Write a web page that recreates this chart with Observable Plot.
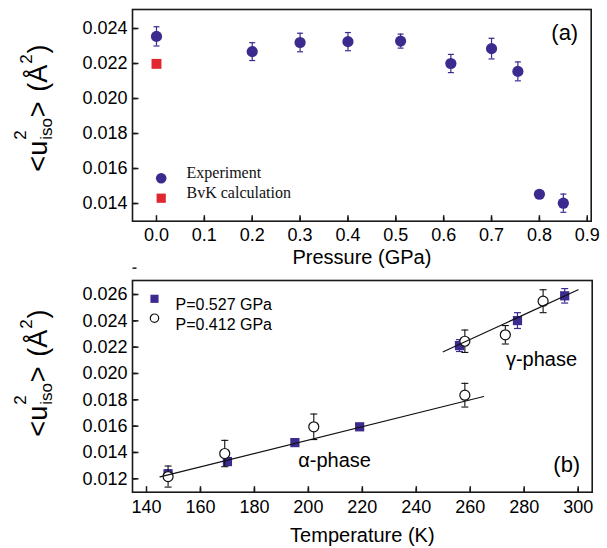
<!DOCTYPE html>
<html><head><meta charset="utf-8">
<script src="https://cdn.jsdelivr.net/npm/d3@7"></script>
<script src="https://cdn.jsdelivr.net/npm/@observablehq/plot@0.6"></script>
<style>
body{margin:0;background:#fff;}
#chart svg{display:block;}
</style></head><body><div id="chart"></div>
<script>
// ---- Panel (a): u_iso^2 vs pressure ----
const pressure = [0.0, 0.2, 0.3, 0.4, 0.51, 0.615, 0.70, 0.755, 0.80, 0.85];
const expVal   = [0.02355, 0.02268, 0.02320, 0.02325, 0.02328, 0.02200, 0.02285, 0.02155, 0.01453, 0.01402];
const expErr   = [0.00055, 0.00051, 0.00053, 0.00052, 0.00040, 0.00052, 0.00059, 0.00054, 0.00008, 0.00052];
const bvkPressure = [0.0];
const bvkVal      = [0.02198];
const xTicksA = [0, 0.1, 0.2, 0.3, 0.4, 0.5, 0.6, 0.7, 0.8, 0.9];
const yTicksA = [0.014, 0.016, 0.018, 0.020, 0.022, 0.024];
const legendA = ["Experiment", "BvK calculation"];

// ---- Panel (b): u_iso^2 vs temperature ----
const temp527 = [148, 170, 195, 219, 256, 277.5, 295];
const val527  = [0.01238, 0.01331, 0.01475, 0.01595, 0.02212, 0.02402, 0.02590];
const err527  = [0.00030, 0.00030, 0.00020, 0.00020, 0.00045, 0.00060, 0.00055];
const temp412 = [148, 169, 202, 258, 258, 273, 287];
const val412  = [0.01217, 0.01392, 0.01595, 0.01835, 0.02245, 0.02294, 0.02549];
const err412  = [0.00080, 0.00100, 0.00097, 0.00090, 0.00085, 0.00070, 0.00087];
const alphaFitT = [145, 265];
const alphaFitV = [0.01215, 0.01825];
const gammaFitT = [250, 300];
const gammaFitV = [0.02165, 0.02636];
const xTicksB = [140, 160, 180, 200, 220, 240, 260, 280, 300];
const yTicksB = [0.012, 0.014, 0.016, 0.018, 0.020, 0.022, 0.024, 0.026];
const legendB = ["P=0.527 GPa", "P=0.412 GPa"];
const phaseLabels = [
  {t: 209.7, v: 0.01288, text: "α-phase"},
  {t: 286.4, v: 0.02055, text: "γ-phase"}
];

const PURPLE = "#3d2a8e", RED = "#e2262f", INK = "#1a1a1a";
const SANS = "'Liberation Sans', Arial, Helvetica, sans-serif";
const SERIF = "'Liberation Serif', 'Times New Roman', serif";
const TICKFS = 18;

const cap = w => ({draw(ctx) { ctx.moveTo(-w, 0); ctx.lineTo(w, 0); }});
const vtick = len => ({draw(ctx) { ctx.moveTo(0, 0); ctx.lineTo(0, -len); }});
const htick = len => ({draw(ctx) { ctx.moveTo(0, 0); ctx.lineTo(len, 0); }});

const expData = pressure.map((p, i) => ({p, v: expVal[i], e: expErr[i]}));
const bvkData = bvkPressure.map((p, i) => ({p, v: bvkVal[i]}));
const d527 = temp527.map((t, i) => ({t, v: val527[i], e: err527[i]}));
const d412 = temp412.map((t, i) => ({t, v: val412[i], e: err412[i]}));
const alphaFit = alphaFitT.map((t, i) => ({t, v: alphaFitV[i]}));
const gammaFit = gammaFitT.map((t, i) => ({t, v: gammaFitV[i]}));

function range(a, b, s) { return d3.range(Math.round(a / s), Math.round(b / s) + 1).map(k => +(k * s).toFixed(6)); }

function axes(xt, yt, xfmt, xPad) {
  return [
    Plot.frame({stroke: INK, strokeWidth: 1.6, fill: "none"}),
    Plot.axisX(xt, {tickSize: 0, tickPadding: xPad, tickFormat: xfmt, label: null, fontSize: TICKFS, fill: "#000"}),
    Plot.axisY(yt, {tickSize: 0, tickPadding: 5, tickFormat: d3.format(".3f"), label: null, fontSize: TICKFS, fill: "#000"})
  ];
}

// inward (Origin-style) ticks drawn as stroke-only symbols anchored on the frame edges
function inTicks(xt, xMinor, yt, yMinor) {
  const tk = {fill: "none", stroke: INK, strokeWidth: 1.5};
  return [
    Plot.dot(xt, {x: d => d, frameAnchor: "bottom", symbol: vtick(6), ...tk}),
    Plot.dot(xMinor, {x: d => d, frameAnchor: "bottom", symbol: vtick(4), ...tk}),
    Plot.dot(yt, {y: d => d, frameAnchor: "left", symbol: htick(6), ...tk}),
    Plot.dot(yMinor, {y: d => d, frameAnchor: "left", symbol: htick(4), ...tk})
  ];
}

function addYTitle(svg, cx, cy) {
  const t = d3.select(svg).append("text")
    .attr("transform", `translate(${cx},${cy}) rotate(-90)`)
    .attr("text-anchor", "middle")
    .attr("font-family", SANS).attr("font-size", 27).attr("fill", "#000");
  t.append("tspan").text("<u");
  t.append("tspan").attr("font-size", 17).attr("dy", -21).attr("dx", 1).text("2");
  t.append("tspan").attr("font-size", 17).attr("dx", -9.5).attr("dy", 26).text("iso");
  t.append("tspan").attr("dy", -5).attr("dx", 1).text(">");
  t.append("tspan").attr("dx", 2).text(" (Å");
  t.append("tspan").attr("font-size", 17).attr("dy", -15).attr("dx", 1).text("2");
  t.append("tspan").attr("dy", 15).attr("dx", 1).text(")");
}

const style = {fontFamily: SANS, fontSize: TICKFS + "px", background: "white", color: "#000", overflow: "visible"};

const plotA = Plot.plot({
  width: 607, height: 270,
  marginTop: 9, marginBottom: 49.3, marginLeft: 132, marginRight: 16.3,
  style,
  x: {domain: [-0.0501, 0.9082]},
  y: {domain: [0.01299, 0.025086]},
  marks: [
    ...axes(xTicksA, yTicksA, d3.format(".1f"), 7.5),
    Plot.ruleX(expData, {x: "p", y1: d => d.v - d.e, y2: d => d.v + d.e, stroke: PURPLE, strokeWidth: 1.2}),
    Plot.dot(expData, {x: "p", y: d => d.v + d.e, symbol: cap(3), fill: "none", stroke: PURPLE, strokeWidth: 1.2}),
    Plot.dot(expData, {x: "p", y: d => d.v - d.e, symbol: cap(3), fill: "none", stroke: PURPLE, strokeWidth: 1.2}),
    Plot.dot(expData, {x: "p", y: "v", r: 5.6, fill: PURPLE, stroke: "none"}),
    Plot.dot(bvkData, {x: "p", y: "v", symbol: "square", r: 5.6, fill: RED, stroke: "none"}),
    // legend
    Plot.dot([legendA[0]], {frameAnchor: "bottom-left", dx: 28.7, dy: -43, r: 5.3, fill: PURPLE}),
    Plot.dot([legendA[1]], {frameAnchor: "bottom-left", dx: 28.7, dy: -23, r: 5.2, symbol: "square", fill: RED}),
    Plot.text(legendA, {frameAnchor: "bottom-left", dx: 54, text: d => d, textAnchor: "start", fontFamily: SERIF, fontSize: 16, fill: "#111"}),
    Plot.text(["(a)"], {frameAnchor: "top-right", dx: -13, dy: 30, textAnchor: "end", lineAnchor: "bottom", fontSize: 22, fill: "#000"}),
    Plot.text(["Pressure (GPa)"], {frameAnchor: "bottom", dy: 43, lineAnchor: "bottom", fontSize: 20, fill: "#000"}),
    ...inTicks(xTicksA, range(0.05, 0.85, 0.1), yTicksA, range(0.013, 0.025, 0.002))
  ]
});

const plotB = Plot.plot({
  width: 607, height: 278,
  marginTop: 10, marginBottom: 56.3, marginLeft: 132, marginRight: 15.3,
  style,
  x: {domain: [134.81, 305.2]},
  y: {domain: [0.010982, 0.027064]},
  marks: [
    ...axes(xTicksB, yTicksB, d3.format("d"), 8.3),
    Plot.ruleX(d527, {x: "t", y1: d => d.v - d.e, y2: d => d.v + d.e, stroke: PURPLE, strokeWidth: 1.2}),
    Plot.dot(d527, {x: "t", y: d => d.v + d.e, symbol: cap(3.5), fill: "none", stroke: PURPLE, strokeWidth: 1.2}),
    Plot.dot(d527, {x: "t", y: d => d.v - d.e, symbol: cap(3.5), fill: "none", stroke: PURPLE, strokeWidth: 1.2}),
    Plot.dot(d527, {x: "t", y: "v", symbol: "square", r: 5.2, fill: PURPLE, stroke: "none"}),
    Plot.ruleX(d412, {x: "t", y1: d => d.v - d.e, y2: d => d.v + d.e, stroke: "#111", strokeWidth: 1.1}),
    Plot.dot(d412, {x: "t", y: d => d.v + d.e, symbol: cap(3.5), fill: "none", stroke: "#111", strokeWidth: 1.1}),
    Plot.dot(d412, {x: "t", y: d => d.v - d.e, symbol: cap(3.5), fill: "none", stroke: "#111", strokeWidth: 1.1}),
    Plot.dot(d412, {x: "t", y: "v", r: 5, fill: "white", stroke: "#111", strokeWidth: 1.2}),
    Plot.line(alphaFit, {x: "t", y: "v", stroke: "#111", strokeWidth: 1.2}),
    Plot.line(gammaFit, {x: "t", y: "v", stroke: "#111", strokeWidth: 1.2}),
    Plot.text(phaseLabels, {x: "t", y: "v", text: "text", lineAnchor: "bottom", fontSize: 20, fill: "#000"}),
    // legend
    Plot.dot([legendB[0]], {frameAnchor: "top-left", dx: 22, dy: 18.3, r: 4.6, symbol: "square", fill: PURPLE}),
    Plot.dot([legendB[1]], {frameAnchor: "top-left", dx: 22, dy: 37.7, r: 4.2, fill: "white", stroke: "#111", strokeWidth: 1.2}),
    Plot.text(legendB, {frameAnchor: "top-left", dx: 43, text: d => d, textAnchor: "start", fontSize: 16, fill: "#000"}),
    Plot.text(["(b)"], {frameAnchor: "bottom-right", dx: -12, dy: -20, textAnchor: "end", lineAnchor: "bottom", fontSize: 22, fill: "#000"}),
    Plot.text(["Temperature (K)"], {frameAnchor: "bottom", dy: 50, lineAnchor: "bottom", fontSize: 20, fill: "#000"}),
    ...inTicks(xTicksB, range(150, 290, 20), yTicksB, range(0.011, 0.027, 0.002))
  ]
});

// place legend texts on separate rows
function rowOffsets(svg, label, offsets) {
  const texts = [...svg.querySelectorAll("text")].filter(n => label.includes(n.textContent));
  texts.forEach((n, i) => {
    const tr = n.getAttribute("transform") || "";
    n.setAttribute("transform", tr + ` translate(0,${offsets[i]})`);
  });
}
rowOffsets(plotA, legendA, [-43, -23]);
rowOffsets(plotB, legendB, [18.3, 37.7]);

addYTitle(plotA, 46.5, 108);
addYTitle(plotB, 46.5, 103);

document.getElementById("chart").append(plotA, plotB);
</script></body></html>
